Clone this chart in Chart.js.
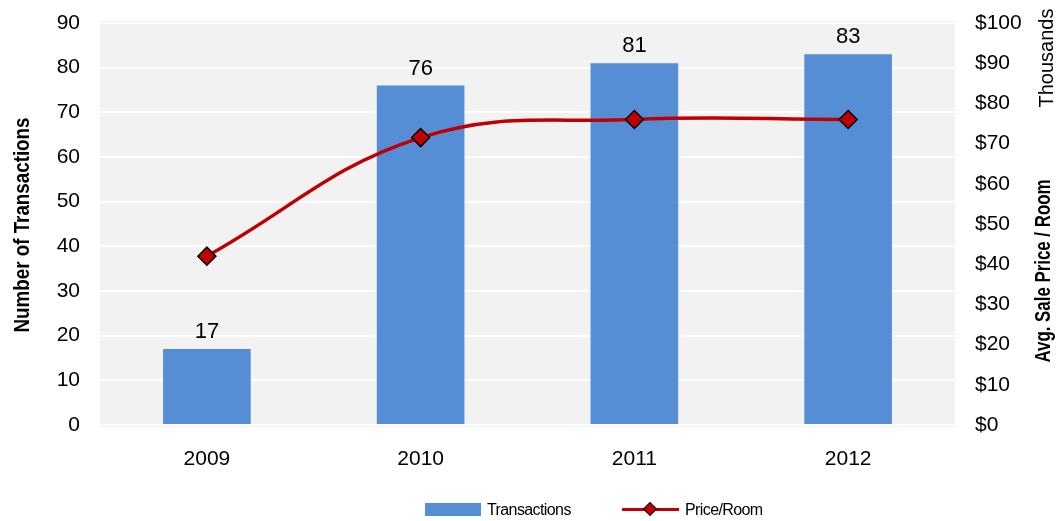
<!DOCTYPE html>
<html>
<head>
<meta charset="utf-8">
<script src="https://cdn.jsdelivr.net/npm/chart.js@4.4.1/dist/chart.umd.min.js"></script>
<style>
  html, body { margin: 0; padding: 0; background: #fff; }
  #wrap { position: relative; width: 1062px; height: 521px; font-family: "Liberation Sans", Arial, sans-serif; }
  #legenda { position: absolute; top: 500px; left: 0; width: 1062px; height: 20px; font-size: 16px; color: #000; }
  #legenda .caixa { position: absolute; left: 425px; top: 3px; width: 56px; height: 13px; background: #558ed5; }
  #legenda .txt { position: absolute; top: 0; line-height: 20px; letter-spacing: -0.6px; }
  #legenda .linha { position: absolute; left: 622px; top: 8px; width: 57px; height: 3px; background: #c00000; }
  #legenda .losango { position: absolute; left: 645px; top: 4px; width: 8px; height: 8px; background: #c00000; border: 1px solid #000; transform: rotate(45deg); }
</style>
</head>
<body>
<div id="wrap">
  <canvas id="grafico" width="1062" height="521"></canvas>
  <div id="legenda">
    <div class="caixa"></div>
    <span class="txt" style="left:487px">Transactions</span>
    <div class="linha"></div>
    <div class="losango"></div>
    <span class="txt" style="left:685px">Price/Room</span>
  </div>
</div>
<script>
// dados do gráfico
const anos = ['2009', '2010', '2011', '2012'];
const transacoes = [17, 76, 81, 83];
const precoPorQuarto = [42000, 71500, 76000, 76000];

const fonte = '"Liberation Sans", Arial, sans-serif';

// fundo cinza da area do grafico
const fundoPlugin = {
    id: 'fundo',
    beforeDraw(chart) {
        const { ctx, chartArea } = chart;
        ctx.save();
        ctx.fillStyle = '#f2f2f2';
        ctx.fillRect(chartArea.left, chartArea.top - 2, chartArea.right - chartArea.left, chartArea.bottom - chartArea.top + 4);
        ctx.restore();
    }
};

// rotulos de valor acima das barras
const rotulosPlugin = {
    id: 'rotulos',
    afterDatasetsDraw(chart) {
        const { ctx } = chart;
        const meta = chart.getDatasetMeta(1);
        ctx.save();
        ctx.font = '22px ' + fonte;
        ctx.fillStyle = '#000';
        ctx.textAlign = 'center';
        ctx.textBaseline = 'alphabetic';
        meta.data.forEach((barra, i) => {
            ctx.fillText(String(transacoes[i]), barra.x, barra.y - 11);
        });
        ctx.restore();
    }
};

// titulos dos eixos (texto estreito, girado)
function textoVertical(ctx, texto, x, y, font, larguraAlvo) {
    ctx.save();
    ctx.font = font;
    ctx.fillStyle = '#000';
    ctx.textAlign = 'center';
    ctx.textBaseline = 'middle';
    ctx.translate(x, y);
    ctx.rotate(-Math.PI / 2);
    const w = ctx.measureText(texto).width;
    ctx.scale(larguraAlvo / w, 1);
    ctx.fillText(texto, 0, 0);
    ctx.restore();
}

const titulosPlugin = {
    id: 'titulos',
    afterDraw(chart) {
        const ctx = chart.ctx;
        textoVertical(ctx, 'Number of Transactions', 23, 225, 'bold 22px ' + fonte, 215);
        textoVertical(ctx, 'Avg. Sale Price / Room', 1044, 271, 'bold 22px ' + fonte, 183);
        textoVertical(ctx, 'Thousands', 1047, 58, '21px ' + fonte, 99);
    }
};

new Chart(document.getElementById('grafico'), {
    data: {
        labels: anos,
        datasets: [
            {
                type: 'line',
                label: 'Price/Room',
                data: precoPorQuarto,
                yAxisID: 'y1',
                borderColor: '#c00000',
                borderWidth: 3.5,
                tension: 0.4,
                pointStyle: 'rectRot',
                pointRadius: 9,
                pointBackgroundColor: '#c00000',
                pointBorderColor: '#000',
                pointBorderWidth: 1.5,
                order: 0
            },
            {
                type: 'bar',
                label: 'Transactions',
                data: transacoes,
                yAxisID: 'y',
                backgroundColor: '#558ed5',
                categoryPercentage: 1,
                barPercentage: 0.41,
                order: 1
            }
        ]
    },
    plugins: [fundoPlugin, rotulosPlugin, titulosPlugin],
    options: {
        responsive: false,
        animation: false,
        layout: { padding: { top: 23, left: 0, right: 0, bottom: 0 } },
        plugins: {
            legend: { display: false },
            tooltip: { enabled: false }
        },
        scales: {
            x: {
                grid: { display: false },
                border: { display: false },
                ticks: { color: '#000', font: { family: fonte, size: 21 }, padding: 14 },
                afterFit: s => { s.height = 96; s.paddingLeft = 0; s.paddingRight = 0; }
            },
            y: {
                position: 'left',
                min: 0,
                max: 90,
                ticks: { stepSize: 10, color: '#000', font: { family: fonte, size: 21 }, padding: 20 },
                grid: { color: '#ffffff', lineWidth: 2, drawTicks: false },
                border: { display: false },
                afterFit: s => { s.width = 100; s.paddingTop = 0; s.paddingBottom = 0; }
            },
            y1: {
                position: 'right',
                min: 0,
                max: 100000,
                ticks: {
                    stepSize: 10000,
                    color: '#000',
                    font: { family: fonte, size: 21 },
                    padding: 20,
                    callback: v => '$' + (v / 1000)
                },
                grid: { display: false, drawTicks: false },
                border: { display: false },
                afterFit: s => { s.width = 107; s.paddingTop = 0; s.paddingBottom = 0; }
            }
        }
    }
});
</script>
</body>
</html>
